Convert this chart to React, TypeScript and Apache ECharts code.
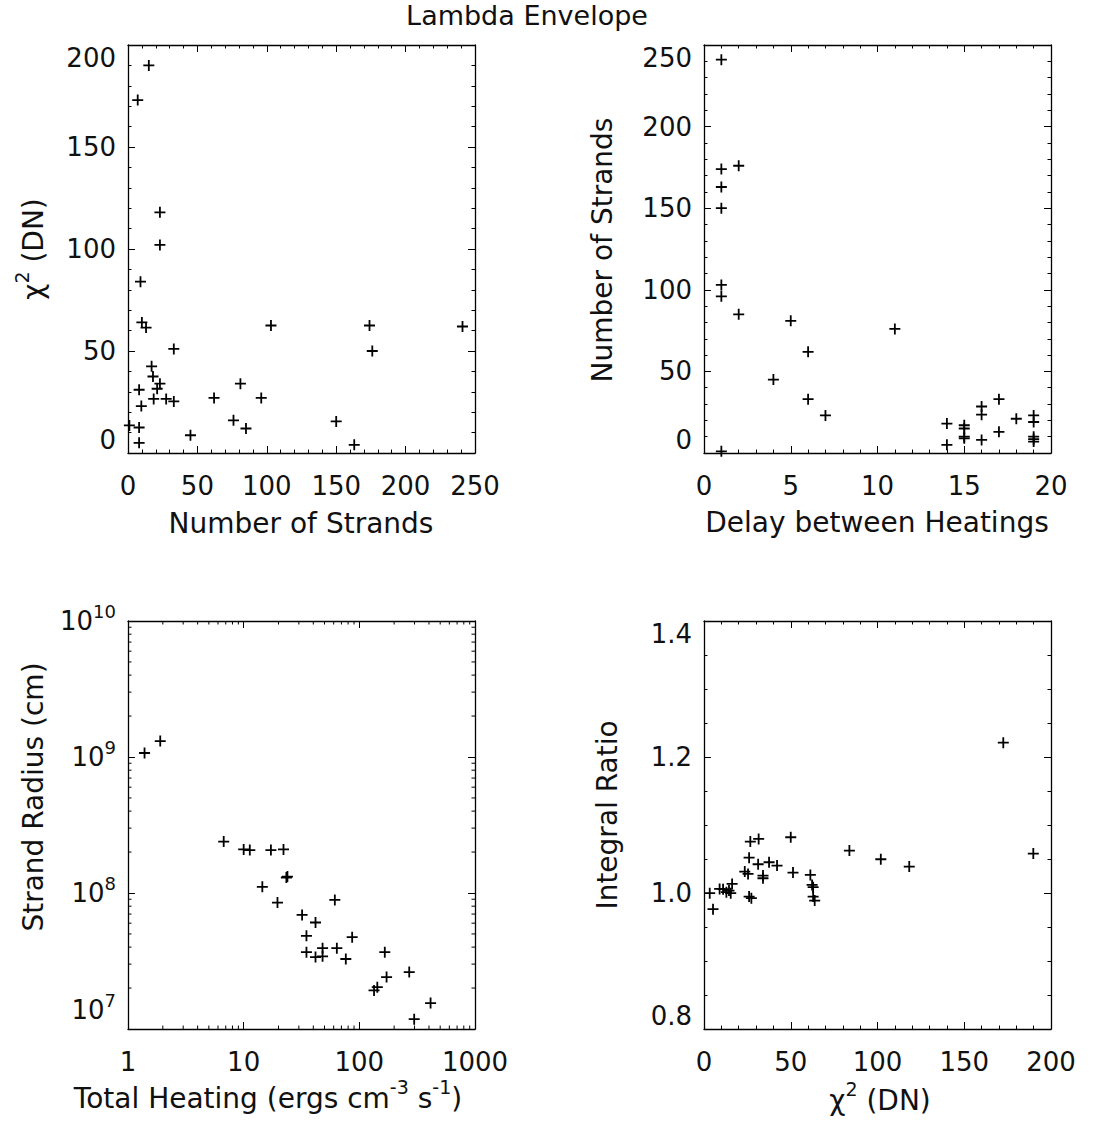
import React, { useEffect, useRef } from 'react';
import * as echarts from 'echarts';

// ---- Panel 1: chi^2 vs number of strands ----
const strands1 = [15, 7, 23, 23, 9, 10, 13, 103, 174, 241, 33, 176, 17, 18, 8, 23, 21, 81, 18.5, 27.5, 33, 62, 96, 9.6, 1, 8, 8, 45, 76, 85, 150, 163];
const chi1 = [190, 173, 118, 102, 84, 64, 61.5, 62.5, 62.5, 62, 51, 50, 42.5, 37.5, 31, 34, 31.5, 34, 26.5, 26.5, 25.3, 27, 27, 23, 13.5, 12.5, 5, 8.7, 16, 12, 15.5, 4];

// ---- Panel 2: number of strands vs delay ----
const delay2 = [1, 1, 2, 1, 1, 1, 1, 2, 5, 11, 6, 4, 6, 7, 1, 14, 14, 15, 15, 15, 15, 16, 16, 16, 17, 17, 18, 19, 19, 19, 19, 19];
const strands2 = [241, 174, 176, 163, 150, 103, 96, 85, 81, 76, 62, 45, 33, 23, 1, 18, 5, 17, 15, 10, 9, 28.5, 23.5, 8, 33, 13, 21, 23, 19, 10, 8.5, 7];

// ---- Panel 3: strand radius vs total heating (log-log) ----
const heat3 = [1.39, 1.9, 6.72, 10.0, 11.3, 17.2, 22.1, 23.9, 23.4, 14.5, 19.6, 61.4, 32.0, 41.8, 34.9, 86.7, 34.9, 41.8, 48.1, 48.1, 63.9, 76.4, 166, 172, 270, 134, 143, 413, 298];
const radius3 = [1.07e9, 1.31e9, 2.39e8, 2.09e8, 2.07e8, 2.07e8, 2.09e8, 1.32e8, 1.3e8, 1.11e8, 8.5e7, 8.9e7, 6.9e7, 6.07e7, 4.84e7, 4.73e7, 3.67e7, 3.38e7, 3.42e7, 3.93e7, 3.93e7, 3.27e7, 3.67e7, 2.41e7, 2.62e7, 1.92e7, 2.03e7, 1.55e7, 1.18e7];

// ---- Panel 4: integral ratio vs chi^2 ----
const chi4 = [172.5, 189.8, 50, 26.7, 31.5, 83.8, 101.9, 118.3, 26, 31.2, 37.5, 42.1, 23.5, 25.4, 51.3, 34, 34, 61.3, 62.3, 62.9, 62.9, 63.8, 26, 27.3, 16.2, 3.3, 9, 11, 12.9, 14.4, 15.4, 5.2];
const ratio4 = [1.221, 1.058, 1.082, 1.0756, 1.0795, 1.0624, 1.0496, 1.0389, 1.052, 1.0423, 1.0452, 1.0403, 1.0315, 1.0281, 1.03, 1.0256, 1.0217, 1.0266, 1.0119, 1.0085, 0.9948, 0.9889, 0.9948, 0.9924, 1.0134, 0.9997, 1.006, 1.0056, 1.0012, 1.0036, 0.9997, 0.9762];

const FONT = "'DejaVu Sans', sans-serif";
const TXT = '#111';
const TICK_FS = 26;
const TITLE_FS = 28;
const MAIN_FS = 27;

const GRIDS = [
  { left: 128, top: 45, width: 347, height: 408 },
  { left: 704, top: 45, width: 347, height: 408 },
  { left: 128, top: 621, width: 347, height: 408 },
  { left: 704, top: 621, width: 347, height: 408 },
];

const zip = (a: number[], b: number[]) => a.map((v, i) => [v, b[i]]);

const lineStyle = { color: '#000', width: 1.3 };

function axisBase(dim: 'x' | 'y', gridIndex: number, position: string, showLabel: boolean) {
  const label: any = {
    show: showLabel,
    margin: dim === 'x' ? 20 : 12,
    fontSize: TICK_FS,
    fontFamily: FONT,
    color: TXT,
  };
  if (dim === 'y') {
    label.verticalAlignMinLabel = 'bottom';
    label.verticalAlignMaxLabel = 'top';
  }
  return {
    gridIndex,
    position,
    axisLine: { show: true, onZero: false, lineStyle },
    axisTick: { show: true, inside: true, length: 7, lineStyle: { color: '#000', width: 1 } },
    splitLine: { show: false },
    minorSplitLine: { show: false },
    axisLabel: label,
  };
}

function linAxis(dim: 'x' | 'y', gridIndex: number, position: string, showLabel: boolean,
  min: number, max: number, interval: number, minorSplit: number, fmt?: (v: number) => string) {
  const a: any = axisBase(dim, gridIndex, position, showLabel);
  a.type = 'value';
  a.min = min;
  a.max = max;
  a.interval = interval;
  a.minorTick = { show: true, splitNumber: minorSplit, length: 3.5, lineStyle: { color: '#000', width: 1 } };
  if (fmt) a.axisLabel.formatter = fmt;
  return a;
}

function logAxis(dim: 'x' | 'y', gridIndex: number, position: string, showLabel: boolean,
  min: number, max: number, fmt: any, rich?: any) {
  const a: any = axisBase(dim, gridIndex, position, showLabel);
  a.type = 'log';
  a.logBase = 10;
  a.min = min;
  a.max = max;
  a.minorTick = { show: false };
  a.axisLabel.formatter = fmt;
  if (rich) a.axisLabel.rich = rich;
  if (dim === 'y') {
    delete a.axisLabel.verticalAlignMaxLabel;
  }
  return a;
}

const supRich = {
  b: { fontSize: TICK_FS, fontFamily: FONT, color: TXT },
  s: { fontSize: 18, fontFamily: FONT, color: TXT, padding: [0, 0, 20, 0] },
};
const expFmt = (v: number) => '{b|10}{s|' + Math.round(Math.log10(v)) + '}';
const plainFmt = (v: number) => String(Math.round(v));
const oneDec = (v: number) => v.toFixed(1);

const titleRich = {
  n: { fontSize: TITLE_FS, fontFamily: FONT, color: TXT },
  s: { fontSize: 19, fontFamily: FONT, color: TXT, padding: [0, 0, 22, 0] },
};

function label(text: string, x: number, y: number, vertical: boolean, fs: number = TITLE_FS) {
  return {
    type: 'text',
    x,
    y,
    rotation: vertical ? Math.PI / 2 : 0,
    silent: true,
    style: {
      text,
      fontSize: fs,
      fontFamily: FONT,
      fill: TXT,
      align: 'center',
      verticalAlign: 'middle',
      rich: titleRich,
    },
  };
}

const PLUS = 'path://M6,0L6,12M0,6L12,6';

function scatter(idx: number, data: number[][]) {
  return {
    type: 'scatter',
    xAxisIndex: idx,
    yAxisIndex: idx,
    data,
    symbol: PLUS,
    symbolSize: 11,
    silent: true,
    itemStyle: { color: 'none', borderColor: '#000', borderWidth: 1.8, opacity: 1 },
    emphasis: { disabled: true },
  };
}

// minor log tick positions for panel 3 (2..9 within each decade)
const minorMultipliers = [2, 3, 4, 5, 6, 7, 8, 9];
const xDecades = [1, 10, 100];
const yDecades = [1e7, 1e8, 1e9];

export default function App() {
  const ref = useRef<HTMLDivElement>(null);

  useEffect(() => {
    document.body.style.margin = '0';
    if (!ref.current) return;
    const chart = echarts.init(ref.current, undefined, { renderer: 'svg' });

    const minorData: number[][] = [];
    xDecades.forEach((d) => minorMultipliers.forEach((m) => minorData.push([m * d, 1e7, 0])));
    yDecades.forEach((d) => minorMultipliers.forEach((m) => minorData.push([1, m * d, 1])));

    const tickLine = (x1: number, y1: number, x2: number, y2: number) => ({
      type: 'line',
      shape: { x1, y1, x2, y2 },
      style: { stroke: '#000', lineWidth: 1 },
    });

    const option: any = {
      animation: false,
      backgroundColor: '#fff',
      grid: GRIDS.map((g) => ({ ...g, containLabel: false })),
      xAxis: [
        linAxis('x', 0, 'bottom', true, 0, 250, 50, 5),
        linAxis('x', 1, 'bottom', true, 0, 20, 5, 5),
        logAxis('x', 2, 'bottom', true, 1, 1000, plainFmt),
        linAxis('x', 3, 'bottom', true, 0, 200, 50, 5),
        linAxis('x', 0, 'top', false, 0, 250, 50, 5),
        linAxis('x', 1, 'top', false, 0, 20, 5, 5),
        logAxis('x', 2, 'top', false, 1, 1000, plainFmt),
        linAxis('x', 3, 'top', false, 0, 200, 50, 5),
      ],
      yAxis: [
        linAxis('y', 0, 'left', true, 0, 200, 50, 5),
        linAxis('y', 1, 'left', true, 0, 250, 50, 5),
        logAxis('y', 2, 'left', true, 1e7, 1e10, expFmt, supRich),
        linAxis('y', 3, 'left', true, 0.8, 1.4, 0.2, 4, oneDec),
        linAxis('y', 0, 'right', false, 0, 200, 50, 5),
        linAxis('y', 1, 'right', false, 0, 250, 50, 5),
        logAxis('y', 2, 'right', false, 1e7, 1e10, expFmt, supRich),
        linAxis('y', 3, 'right', false, 0.8, 1.4, 0.2, 4, oneDec),
      ],
      series: [
        scatter(0, zip(strands1, chi1)),
        scatter(1, zip(delay2, strands2)),
        scatter(2, zip(heat3, radius3)),
        scatter(3, zip(chi4, ratio4)),
        {
          type: 'custom',
          xAxisIndex: 2,
          yAxisIndex: 2,
          silent: true,
          clip: false,
          data: minorData,
          encode: { x: 0, y: 1 },
          renderItem: (_params: any, api: any) => {
            const kind = api.value(2);
            const v0 = api.value(0);
            const v1 = api.value(1);
            if (kind === 0) {
              const b = api.coord([v0, 1e7]);
              const t = api.coord([v0, 1e10]);
              return {
                type: 'group',
                children: [tickLine(b[0], b[1], b[0], b[1] - 3.5), tickLine(t[0], t[1], t[0], t[1] + 3.5)],
              };
            }
            const l = api.coord([1, v1]);
            const r = api.coord([1000, v1]);
            return {
              type: 'group',
              children: [tickLine(l[0], l[1], l[0] + 3.5, l[1]), tickLine(r[0], r[1], r[0] - 3.5, r[1])],
            };
          },
        },
      ],
      graphic: [
        label('Lambda Envelope', 527, 15, false, MAIN_FS),
        label('{n|χ}{s|2}{n| (DN)}', 33, 249, true),
        label('Number of Strands', 301, 523, false),
        label('Number of Strands', 602, 250, true),
        label('Delay between Heatings', 877, 522, false),
        label('Strand Radius (cm)', 33, 797, true),
        label('{n|Total Heating (ergs cm}{s|-3}{n| s}{s|-1}{n|)}', 268, 1098, false),
        label('Integral Ratio', 607, 815, true),
        label('{n|χ}{s|2}{n| (DN)}', 880, 1100, false),
      ],
    };

    chart.setOption(option);
    return () => chart.dispose();
  }, []);

  return <div ref={ref} style={{ width: 1095, height: 1122 }} />;
}
